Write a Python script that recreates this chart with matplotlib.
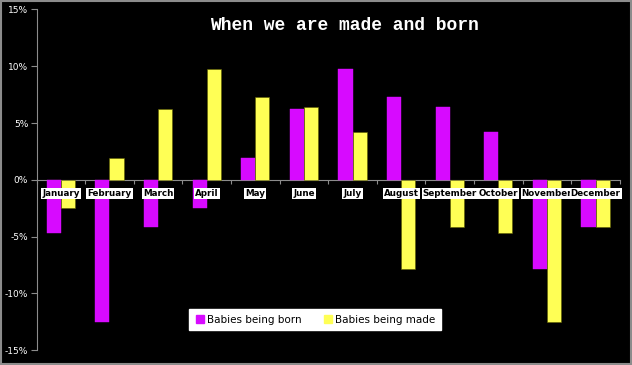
import numpy as np
import matplotlib.pyplot as plt
from matplotlib.patches import Rectangle
from matplotlib.lines import Line2D

# ── Data (% deviation from average) ─────────────────────────────────────────
months = ["January", "February", "March", "April", "May", "June",
          "July", "August", "September", "October", "November", "December"]
born = [-4.7, -12.5, -4.2, -2.5, 1.9, 6.25, 9.75, 7.3, 6.45, 4.25, -7.9, -4.2]
made = [-2.5, 1.9, 6.25, 9.75, 7.3, 6.45, 4.25, -7.9, -4.2, -4.7, -12.5, -4.2]
yticks = [-15, -10, -5, 0, 5, 10, 15]

born_color = "#D70AFF"
made_color = "#FFFF55"

# ── Figure ──────────────────────────────────────────────────────────────────
fig = plt.figure(figsize=(6.32, 3.65), dpi=100, facecolor="black")
fig.patches.append(Rectangle((0.0015, 0.0025), 0.997, 0.995, transform=fig.transFigure,
                             fill=False, edgecolor="#8c8c8c", linewidth=1.5))
ax = fig.add_axes([0.0578, 0.041, 0.923, 0.933])
ax.set_facecolor("black")

x = np.arange(len(months))
w = 0.29
ax.bar(x - w / 2, born, w, color=born_color, edgecolor=born_color, linewidth=0.3,
       zorder=3)
ax.bar(x + w / 2, made, w, color=made_color, edgecolor="#5a5a00", linewidth=0.4,
       zorder=3)

ax.set_xlim(-0.5, len(months) - 0.5)
ax.set_ylim(-15, 15)

# axes styling
for s in ["top", "right"]:
    ax.spines[s].set_visible(False)
ax.spines["left"].set_color("#8c8c8c")
ax.spines["bottom"].set_color("#8c8c8c")
ax.spines["bottom"].set_position(("data", 0))
ax.spines["bottom"].set_zorder(2)

ax.set_yticks(yticks)
ax.set_yticklabels([f"{t}%" for t in yticks])
ax.tick_params(axis="y", colors="#8c8c8c", labelcolor="white", labelsize=6.5,
               length=4, width=0.8, pad=2)
ax.set_xticks(np.arange(len(months) + 1) - 0.5)
ax.set_xticklabels([])
ax.tick_params(axis="x", colors="#8c8c8c", length=3, width=0.8, direction="out")

# month labels in white boxes just under the zero line
for i, m in enumerate(months):
    ax.text(i, -1.2, m, ha="center", va="center", fontsize=6.3, fontweight="bold",
            color="black", zorder=5,
            bbox=dict(boxstyle="square,pad=0.12", facecolor="white",
                      edgecolor="none"))

# title
fig.text(0.545, 0.93, "When we are made and born", ha="center", va="center",
         fontsize=13, color="white", family="Liberation Mono", fontweight="bold")

# legend
handles = [Line2D([], [], marker="s", linestyle="none", markersize=6,
                  markerfacecolor=born_color, markeredgecolor=born_color),
           Line2D([], [], marker="s", linestyle="none", markersize=6,
                  markerfacecolor=made_color, markeredgecolor=made_color)]
leg = ax.legend(handles, ["Babies being born", "Babies being made"], ncol=2,
                loc="center", bbox_to_anchor=(0.477, 0.089), frameon=True,
                fancybox=False, framealpha=1, fontsize=7.5, handletextpad=0.2,
                columnspacing=2.0, borderpad=0.55, handlelength=1.0)
leg.get_frame().set_facecolor("white")
leg.get_frame().set_edgecolor("white")
leg.set_zorder(6)

fig.savefig("out.png", dpi=100, facecolor="black")
